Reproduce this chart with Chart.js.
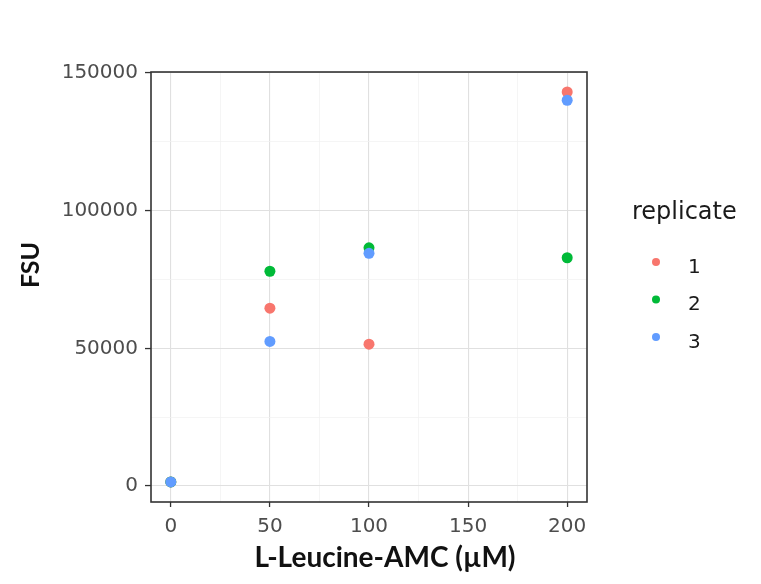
<!DOCTYPE html>
<html>
<head>
<meta charset="utf-8">
<script src="https://cdn.jsdelivr.net/npm/chart.js@4.4.1/dist/chart.umd.min.js"></script>
<style>
    body { margin: 0; background: #ffffff; }
    canvas { display: block; }
</style>
</head>
<body>
<canvas id="replicateChart" width="761" height="584"></canvas>
<script>
// Données
const concentrations = [0, 50, 100, 200];
const replicate1 = [1500, 64600, 51500, 143100];
const replicate2 = [1500, 78000, 86500, 82900];
const replicate3 = [1500, 52500, 84500, 140100];
const replicateLabels = ['1', '2', '3'];
const replicateColors = ['#F8766D', '#00BA38', '#619CFF'];

const xMajorTicks = [0, 50, 100, 150, 200];
const xMinorTicks = [25, 75, 125, 175];
const yMajorTicks = [0, 50000, 100000, 150000];
const yMinorTicks = [25000, 75000, 125000];

const seriesValues = [replicate1, replicate2, replicate3];

function toPoints(values) {
    return concentrations.map((c, i) => ({ x: c, y: values[i] }));
}

// Bordure du panneau, titres des axes et légende (style ggplot)
const ggDecor = {
    id: 'ggDecor',
    afterDraw(chart) {
        const ctx = chart.ctx;
        const area = chart.chartArea;
        ctx.save();

        ctx.strokeStyle = '#333333';
        ctx.lineWidth = 1.6;
        ctx.strokeRect(area.left, area.top, area.right - area.left, area.bottom - area.top);

        ctx.fillStyle = '#111111';
        ctx.font = 'bold 28px Lato';
        ctx.textAlign = 'center';
        ctx.textBaseline = 'alphabetic';
        ctx.fillText('L-Leucine-AMC (\u00b5M)', 385, 567);

        ctx.save();
        ctx.translate(39, 265);
        ctx.rotate(-Math.PI / 2);
        ctx.font = 'bold 25px Lato';
        ctx.fillText('FSU', 0, 0);
        ctx.restore();

        // Légende
        const lx = area.right;
        ctx.textAlign = 'left';
        ctx.fillStyle = '#1a1a1a';
        ctx.font = '24px "DejaVu Sans"';
        ctx.fillText('replicate', lx + 45, 219);

        ctx.font = '20px "DejaVu Sans"';
        replicateLabels.forEach((label, i) => {
            const y = 262 + i * 37.5;
            ctx.beginPath();
            ctx.fillStyle = replicateColors[i];
            ctx.arc(lx + 69, y, 4, 0, Math.PI * 2);
            ctx.fill();
            ctx.fillStyle = '#1a1a1a';
            ctx.fillText(label, lx + 101, y + 10.5);
        });

        ctx.restore();
    }
};

const isMajor = (list, v) => list.includes(v);

new Chart(document.getElementById('replicateChart'), {
    type: 'scatter',
    data: {
        datasets: seriesValues.map((values, i) => ({
            label: replicateLabels[i],
            data: toPoints(values),
            backgroundColor: replicateColors[i],
            borderWidth: 0,
            pointRadius: 5.5,
            pointHoverRadius: 5.5,
            order: seriesValues.length - i
        }))
    },
    options: {
        responsive: false,
        animation: false,
        layout: { padding: { left: 0, top: 72, right: 174, bottom: 0 } },
        plugins: {
            legend: { display: false },
            tooltip: { enabled: false }
        },
        scales: {
            x: {
                type: 'linear',
                min: -10,
                max: 210,
                afterFit: scale => { scale.height = 82; },
                afterBuildTicks: scale => {
                    scale.ticks = [...xMajorTicks, ...xMinorTicks].sort((a, b) => a - b).map(v => ({ value: v }));
                },
                border: { display: false },
                grid: {
                    color: c => isMajor(xMajorTicks, c.tick.value) ? '#e0e0e0' : '#f0f0f0',
                    lineWidth: c => isMajor(xMajorTicks, c.tick.value) ? 1.1 : 0.7,
                    tickColor: c => isMajor(xMajorTicks, c.tick.value) ? '#333333' : 'rgba(0,0,0,0)',
                    tickWidth: 1.3,
                    tickLength: 5
                },
                ticks: {
                    padding: 8,
                    color: '#4d4d4d',
                    font: { family: 'DejaVu Sans', size: 20 },
                    maxRotation: 0,
                    autoSkip: false,
                    callback: v => isMajor(xMajorTicks, v) ? String(v) : ''
                }
            },
            y: {
                type: 'linear',
                min: -5800,
                max: 150360,
                afterFit: scale => { scale.width = 151; },
                afterBuildTicks: scale => {
                    scale.ticks = [...yMajorTicks, ...yMinorTicks].sort((a, b) => a - b).map(v => ({ value: v }));
                },
                border: { display: false },
                grid: {
                    color: c => isMajor(yMajorTicks, c.tick.value) ? '#e0e0e0' : '#f0f0f0',
                    lineWidth: c => isMajor(yMajorTicks, c.tick.value) ? 1.1 : 0.7,
                    tickColor: c => isMajor(yMajorTicks, c.tick.value) ? '#333333' : 'rgba(0,0,0,0)',
                    tickWidth: 1.3,
                    tickLength: 6
                },
                ticks: {
                    padding: 7,
                    color: '#4d4d4d',
                    font: { family: 'DejaVu Sans', size: 20 },
                    autoSkip: false,
                    callback: v => isMajor(yMajorTicks, v) ? String(v) : ''
                }
            }
        }
    },
    plugins: [ggDecor]
});
</script>
</body>
</html>
